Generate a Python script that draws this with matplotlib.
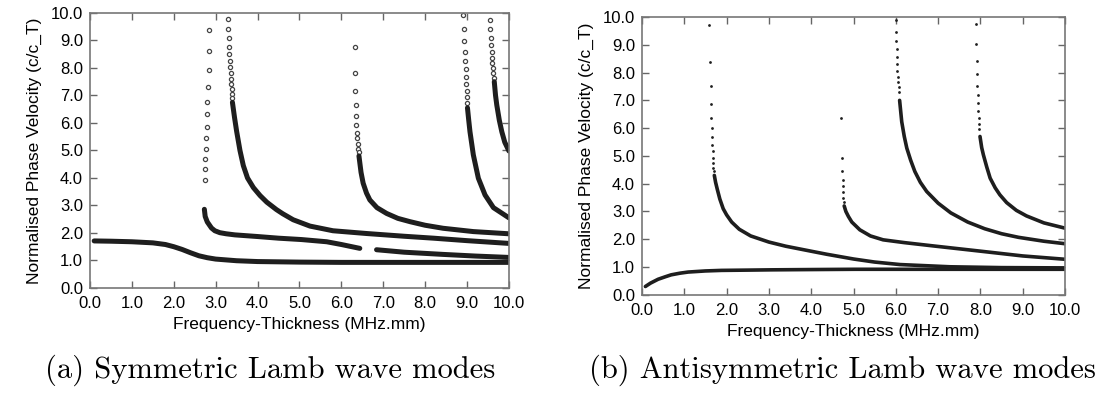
import matplotlib.pyplot as plt
import numpy as np

# ---- (a) symmetric modes ----
# sparse dotted part of each mode (near cut-off) and the dense part after it
s0_x = [0.1, 0.5, 1.0, 1.5, 1.8, 2.0, 2.2, 2.4, 2.6, 2.8, 3.0, 3.5, 4.0, 5.0, 6.0, 8.0, 10.0]
s0_y = [1.71, 1.70, 1.68, 1.64, 1.58, 1.50, 1.40, 1.28, 1.17, 1.10, 1.05, 0.99, 0.96, 0.94, 0.93, 0.93, 0.93]

s1_dots_x = [2.85, 2.84, 2.83, 2.82, 2.80, 2.79, 2.79, 2.77, 2.76, 2.75, 2.74, 2.74]
s1_dots_y = [9.38, 8.62, 7.93, 7.32, 6.77, 6.32, 5.84, 5.44, 5.05, 4.69, 4.32, 3.93]
s1_x = [2.73, 2.75, 2.80, 2.90, 2.98, 3.1, 3.25, 3.46, 4.0, 4.5, 5.05, 5.65, 6.0, 6.44]
s1_y = [2.86, 2.60, 2.40, 2.18, 2.08, 2.01, 1.97, 1.93, 1.87, 1.81, 1.76, 1.68, 1.58, 1.44]
s1b_x = [6.84, 7.5, 8.43, 9.2, 10.0]
s1b_y = [1.39, 1.30, 1.22, 1.16, 1.11]

s2_dots_x = [3.30, 3.30, 3.32, 3.33, 3.33, 3.34, 3.35, 3.36, 3.36, 3.37, 3.38, 3.39, 3.39]
s2_dots_y = [9.77, 9.40, 9.08, 8.78, 8.51, 8.25, 8.02, 7.81, 7.60, 7.41, 7.23, 7.04, 6.90]
s2_x = [3.40, 3.45, 3.50, 3.58, 3.66, 3.76, 3.90, 4.06, 4.22, 4.45, 4.60, 4.85, 5.25, 5.8, 6.6, 7.5, 8.2, 9.0, 10.0]
s2_y = [6.75, 6.20, 5.70, 5.00, 4.45, 4.00, 3.65, 3.36, 3.12, 2.85, 2.70, 2.48, 2.25, 2.08, 1.98, 1.88, 1.81, 1.72, 1.62]

s3_dots_x = [6.32, 6.32, 6.33, 6.34, 6.35, 6.36, 6.37, 6.38, 6.39, 6.40, 6.41]
s3_dots_y = [8.78, 7.83, 7.18, 6.65, 6.25, 5.92, 5.65, 5.44, 5.22, 5.07, 4.94]
s3_x = [6.42, 6.47, 6.52, 6.60, 6.68, 6.85, 7.08, 7.35, 7.64, 8.0, 8.43, 9.15, 10.0]
s3_y = [4.80, 4.20, 3.81, 3.45, 3.20, 2.92, 2.71, 2.53, 2.41, 2.28, 2.17, 2.05, 1.97]

s4_dots_x = [8.91, 8.92, 8.93, 8.95, 8.96, 8.97, 8.97, 8.98, 8.99, 9.00, 9.00]
s4_dots_y = [9.93, 9.42, 8.98, 8.59, 8.25, 7.95, 7.66, 7.41, 7.16, 6.93, 6.72]
s4_x = [9.01, 9.04, 9.07, 9.15, 9.27, 9.43, 9.63, 10.0]
s4_y = [6.55, 6.10, 5.68, 4.84, 3.99, 3.38, 2.92, 2.55]

s5_dots_x = [9.55, 9.55, 9.56, 9.57, 9.59, 9.59, 9.60, 9.61, 9.63, 9.64]
s5_dots_y = [9.75, 9.42, 9.10, 8.84, 8.59, 8.38, 8.17, 7.99, 7.81, 7.65]
s5_x = [9.65, 9.68, 9.71, 9.77, 9.83, 9.90, 10.0]
s5_y = [7.50, 7.00, 6.65, 6.10, 5.68, 5.30, 4.98]

# ---- (b) antisymmetric modes ----
a0_x = [0.08, 0.2, 0.38, 0.55, 0.69, 0.9, 1.09, 1.5, 1.88, 2.5, 3.06, 4.0, 5.03, 6.5, 8.0, 10.0]
a0_y = [0.30, 0.42, 0.56, 0.65, 0.72, 0.78, 0.82, 0.86, 0.88, 0.89, 0.90, 0.91, 0.92, 0.92, 0.92, 0.92]

a1_dots_x = [1.59, 1.61, 1.62, 1.63, 1.64, 1.65, 1.65, 1.66, 1.67, 1.68, 1.69, 1.69, 1.70]
a1_dots_y = [9.71, 8.39, 7.53, 6.88, 6.38, 6.00, 5.67, 5.40, 5.16, 4.94, 4.75, 4.58, 4.44]
a1_x = [1.71, 1.74, 1.78, 1.84, 1.92, 2.0, 2.12, 2.3, 2.57, 3.0, 3.4, 4.0, 4.37, 5.0, 5.5, 6.1, 7.28, 8.5, 10.0]
a1_y = [4.30, 4.05, 3.80, 3.45, 3.10, 2.88, 2.62, 2.36, 2.12, 1.90, 1.75, 1.57, 1.46, 1.29, 1.18, 1.09, 1.01, 0.98, 0.97]

a2_dots_x = [4.70, 4.72, 4.73, 4.74, 4.74, 4.75, 4.76, 4.77]
a2_dots_y = [6.36, 4.92, 4.44, 4.14, 3.90, 3.69, 3.50, 3.33]
a2_x = [4.78, 4.82, 4.88, 4.96, 5.15, 5.4, 5.7, 6.2, 6.89, 8.07, 9.0, 10.0]
a2_y = [3.20, 3.00, 2.82, 2.62, 2.34, 2.12, 1.98, 1.88, 1.76, 1.56, 1.40, 1.28]

a3_dots_x = [6.00, 6.00, 6.01, 6.02, 6.03, 6.04, 6.04, 6.05, 6.06, 6.07, 6.08]
a3_dots_y = [9.89, 9.47, 9.14, 8.84, 8.55, 8.30, 8.06, 7.84, 7.65, 7.47, 7.29]
a3_x = [6.09, 6.14, 6.20, 6.26, 6.35, 6.45, 6.58, 6.73, 7.0, 7.3, 7.7, 8.1, 8.5, 8.9, 9.5, 10.0]
a3_y = [7.00, 6.23, 5.70, 5.28, 4.85, 4.44, 4.05, 3.72, 3.30, 2.95, 2.62, 2.38, 2.20, 2.07, 1.93, 1.84]

a4_dots_x = [7.90, 7.90, 7.91, 7.92, 7.93, 7.94, 7.94, 7.95, 7.96, 7.96, 7.97]
a4_dots_y = [9.74, 9.02, 8.42, 7.94, 7.53, 7.19, 6.90, 6.62, 6.38, 6.16, 5.97]
a4_x = [7.99, 8.03, 8.07, 8.15, 8.23, 8.35, 8.46, 8.62, 8.85, 9.09, 9.5, 10.0]
a4_y = [5.70, 5.30, 5.04, 4.60, 4.20, 3.85, 3.60, 3.32, 3.04, 2.84, 2.59, 2.40]

ticks = np.arange(0, 11, 1.0)
tick_labels = ['%.1f' % t for t in ticks]

plt.rcParams['font.family'] = ['Liberation Sans', 'DejaVu Sans']

fig = plt.figure(figsize=(11.04, 4.05), dpi=100)
ax_a = fig.add_axes([0.0815, 0.289, 0.3795, 0.679])
ax_b = fig.add_axes([0.5815, 0.272, 0.3832, 0.686])

line_col = '#1e1e1e'

# panel (a): hollow circles
for dx, dy in [(s1_dots_x, s1_dots_y), (s2_dots_x, s2_dots_y), (s3_dots_x, s3_dots_y),
               (s4_dots_x, s4_dots_y), (s5_dots_x, s5_dots_y)]:
    ax_a.plot(dx, dy, 'o', ms=3.0, mfc='white', mec='#444444', mew=0.9, clip_on=False)
for cx, cy in [(s0_x, s0_y), (s1_x, s1_y), (s1b_x, s1b_y), (s2_x, s2_y), (s3_x, s3_y),
               (s4_x, s4_y), (s5_x, s5_y)]:
    ax_a.plot(cx, cy, '-', color=line_col, lw=3.6, solid_capstyle='round',
              solid_joinstyle='round')

# panel (b): small filled dots
for dx, dy in [(a1_dots_x, a1_dots_y), (a2_dots_x, a2_dots_y), (a3_dots_x, a3_dots_y),
               (a4_dots_x, a4_dots_y)]:
    ax_b.plot(dx, dy, 'o', ms=2.0, color=line_col, mew=0, clip_on=False)
for cx, cy in [(a0_x, a0_y), (a1_x, a1_y), (a2_x, a2_y), (a3_x, a3_y), (a4_x, a4_y)]:
    ax_b.plot(cx, cy, '-', color=line_col, lw=2.6, solid_capstyle='round',
              solid_joinstyle='round')

for ax in (ax_a, ax_b):
    ax.set_xlim(0, 10)
    ax.set_ylim(0, 10)
    ax.set_xticks(ticks, tick_labels)
    ax.set_yticks(ticks, tick_labels)
    ax.tick_params(direction='in', length=5, width=1, color='#666666',
                   top=True, right=True, labelsize=12)
    ax.tick_params(axis='x', pad=6)
    ax.tick_params(axis='y', pad=5)
    for sp in ax.spines.values():
        sp.set_color('#777777')
        sp.set_linewidth(1.2)
    ax.set_xlabel('Frequency-Thickness (MHz.mm)', fontsize=12.5, labelpad=4)
    ax.set_ylabel('Normalised Phase Velocity (c/c_T)', fontsize=12.5, labelpad=6)

fig.text(0.245, 0.086, '(a) Symmetric Lamb wave modes', family='cmr10',
         fontsize=22, ha='center', va='center')
fig.text(0.763, 0.086, '(b) Antisymmetric Lamb wave modes', family='cmr10',
         fontsize=22, ha='center', va='center')

fig.savefig('out.png', dpi=100)
